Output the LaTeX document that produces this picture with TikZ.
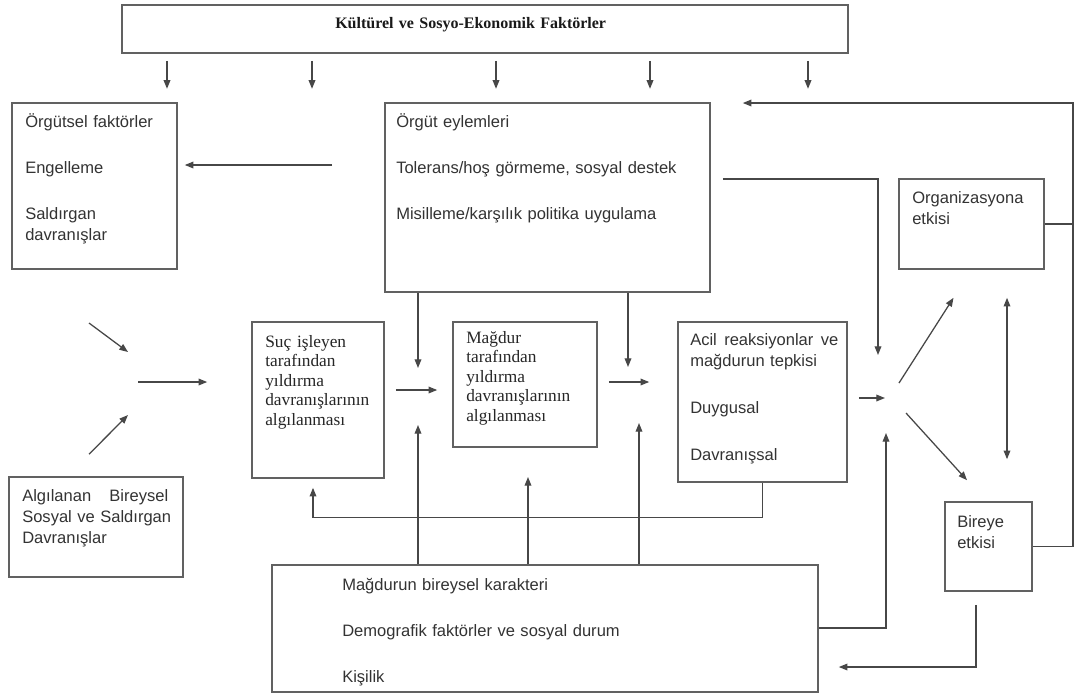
\documentclass[tikz,border=0pt]{standalone}
\usepackage{fontspec}
\setmainfont{Liberation Serif}
\setsansfont{Liberation Sans}
\usetikzlibrary{arrows.meta,fit,calc}

\begin{document}
\begin{tikzpicture}[
      x=0.75pt,
      y=-0.75pt,
      box/.style={draw=black!62, line width=1.2pt, inner sep=0pt},
      plaintext/.style={
        font=\sffamily\fontsize{12.4}{15.75}\selectfont,
        text=black!80,
        align=left,
        text width=260pt,
        inner sep=0pt,
        anchor=base west
      },
      oldtext/.style={
        font=\rmfamily\fontsize{13}{14.7}\selectfont,
        text=black!85,
        align=left,
        text width=120pt,
        inner sep=0pt,
        anchor=base west
      },
      link/.style={draw=black!72, line width=0.95pt},
      arrow/.style={link, -{Triangle[length=6.5pt,width=5pt]}},
      twoway/.style={link, {Triangle[length=6.5pt,width=5pt]}-{Triangle[length=6.5pt,width=5pt]}}
    ]
    \path[fill=white] (0,0) rectangle (1081,694);
    \useasboundingbox (0,0) rectangle (1081,694);

    % boxes
    \node[box, fit={(122,5) (848,53)}] (title) {};
    \node[box, fit={(12,103) (177,269)}] (orgutsel) {};
    \node[box, fit={(385,103) (710,292)}] (eylem) {};
    \node[box, fit={(899,179) (1044,269)}] (org) {};
    \node[box, fit={(945,502) (1032,591)}] (bireye) {};
    \node[box, fit={(9,477) (183,577)}] (algi) {};
    \node[box, fit={(252,322) (384,478)}] (suc) {};
    \node[box, fit={(453,322) (597,447)}] (magdur) {};
    \node[box, fit={(678,322) (847,482)}] (acil) {};
    \node[box, fit={(272,565) (818,692)}] (karakter) {};

    % texts
    \node[oldtext, text width=260pt, font=\rmfamily\bfseries\fontsize{12}{14}\selectfont, text=black!90]
      (titletxt) at (335,28) {Kültürel ve Sosyo-Ekonomik Faktörler};
    \node[plaintext] (orgutseltxt) at (25,127)
      {Örgütsel faktörler\\[18.75pt]Engelleme\\[18.75pt]Saldırgan\\davranışlar};
    \node[plaintext] (eylemtxt) at (396,127)
      {Örgüt eylemleri\\[18.75pt]Tolerans/hoş görmeme, sosyal destek\\[18.75pt]Misilleme/karşılık politika uygulama};
    \node[plaintext] (orgtxt) at (912,203) {Organizasyona\\etkisi};
    \node[plaintext] (bireyetxt) at (957,527) {Bireye\\etkisi};
    \node[plaintext] (algitxt) at (22,501)
      {\hbox to 109.5pt{Algılanan\hfill Bireysel}\\Sosyal ve Saldırgan\\Davranışlar};
    \node[plaintext] (aciltxt) at (690,345)
      {\hbox to 111pt{Acil\hfill reaksiyonlar\hfill ve}\\mağdurun tepkisi\\[19.5pt]Duygusal\\[19.5pt]Davranışsal};
    \node[plaintext] (karaktertxt) at (342,590)
      {Mağdurun bireysel karakteri\\[18.75pt]Demografik faktörler ve sosyal durum\\[18.75pt]Kişilik};
    \node[oldtext] (suctxt) at (265,347)
      {Suç işleyen\\tarafından\\yıldırma\\davranışlarının\\algılanması};
    \node[oldtext] (magdurtxt) at (466,343)
      {Mağdur\\tarafından\\yıldırma\\davranışlarının\\algılanması};

    % meeting points
    \coordinate (join) at (133,384);
    \coordinate (hub) at (885,398);
    \coordinate (rail) at (1073,103);

    % from the top box
    \foreach \xx in {167,312,496,650,808}
      \draw[arrow] ($(title.south -| \xx,0)+(0,7)$) -- ++(0,28);

    \draw[arrow] ($(eylem.west |- 0,165)+(-52,0)$) -- ($(orgutsel.east |- 0,165)+(7,0)$);

    % left side
    \draw[arrow] ($(join)+(-44,-61)$) -- ($(join)+(-5,-32)$);
    \draw[arrow] ($(algi.north)+(-7,-22)$) -- ($(join)+(-5,31)$);
    \draw[arrow] ($(join)+(5,-2)$) -- ($(suc.west |- 0,382)+(-44,0)$);

    % middle row
    \draw[arrow] ($(suc.east |- 0,390)+(11,0)$) -- ($(magdur.west |- 0,390)+(-15,0)$);
    \draw[arrow] ($(magdur.east |- 0,382)+(11,0)$) -- ($(acil.west |- 0,382)+(-28,0)$);
    \foreach \xx/\yy in {418/368, 628/367}
      \draw[arrow] (eylem.south -| \xx,0) -- (\xx,\yy);
    \foreach \xx/\yy in {418/425, 528/477, 639/423}
      \draw[arrow] (karakter.north -| \xx,0) -- (\xx,\yy);
    \draw[arrow] (acil.south) -- ++(0,35) -| ($(suc.south -| 313,0)+(0,9)$);

    % right side
    \draw[arrow] ($(acil.east |- hub)+(11,0)$) -- (hub);
    \draw[arrow] ($(eylem.east |- 0,179)+(12,0)$) -| ($(hub)+(-7,-43)$);
    \draw[arrow] (karakter.east |- 0,628) -| ($(hub)+(1,35)$);
    \draw[arrow] ($(hub)+(14,-15)$) -- ($(org.south)+(-18,28)$);
    \draw[arrow] ($(hub)+(21,15)$) -- ($(bireye.north)+(-21.5,-21)$);
    \draw[twoway] ($(org.south -| 1007,0)+(0,28)$) -- ($(bireye.north -| 1007,0)+(0,-42)$);
    \draw[link] (org.east) -- (org.east -| rail);
    \draw[arrow] (bireye.east) -| (rail) -- ($(eylem.east |- rail)+(32,0)$);
    \draw[arrow] ($(bireye.south -| 976,0)+(0,13)$) |- ($(karakter.east |- 0,667)+(20,0)$);
  \end{tikzpicture}
\end{document}
